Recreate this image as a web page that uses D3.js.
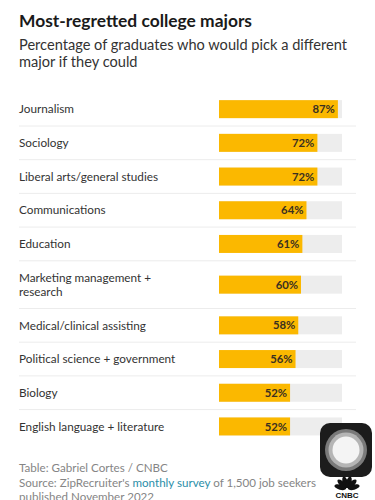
<!DOCTYPE html>
<html>
<head>
<meta charset="utf-8">
<script src="https://cdn.jsdelivr.net/npm/d3@7"></script>
<style>
  body { margin: 0; background: #fff; }
  svg { display: block; font-family: Lato, "Open Sans", sans-serif; }
</style>
</head>
<body>
<div id="chart"></div>
<script>
// data
const majors = [
  ["Journalism"],
  ["Sociology"],
  ["Liberal arts/general studies"],
  ["Communications"],
  ["Education"],
  ["Marketing management +", "research"],
  ["Medical/clinical assisting"],
  ["Political science + government"],
  ["Biology"],
  ["English language + literature"]
];
const values = [87, 72, 72, 64, 61, 60, 58, 56, 52, 52];
const title = "Most-regretted college majors";
const subtitle = ["Percentage of graduates who would pick a different", "major if they could"];
const credit = "Table: Gabriel Cortes / CNBC";
const source = ["Source: ZipRecruiter's ", "monthly survey", " of 1,500 job seekers"];
const published = "published November 2022";

const W = 375, H = 500;
const rowH = 33.7, lineH = 14;
const rowsTop = 92.3;

const svg = d3.select("#chart").append("svg")
    .attr("width", W).attr("height", H);

// title block
svg.append("text")
    .attr("x", 19).attr("y", 27)
    .attr("font-size", 17.4).attr("font-weight", 700).attr("fill", "#1a1a1a")
    .text(title);

svg.append("g").selectAll("text")
  .data(subtitle)
  .join("text")
    .attr("x", 19).attr("y", (d, i) => 50 + i * 17)
    .attr("font-size", 14.6).attr("fill", "#333")
    .text(d => d);

// rows (variable height for two-line labels)
const heights = majors.map(m => rowH + (m.length - 1) * lineH);
const starts = [rowsTop, ...d3.cumsum(heights).map(c => rowsTop + c)];
const rows = majors.map((m, i) => ({
  lines: m, value: values[i], y0: starts[i], y1: starts[i + 1]
}));

const x = d3.scaleLinear().domain([0, 90]).range([219, 342]);
const barH = 18;

const g = svg.append("g");

// separators
g.selectAll("line.sep")
  .data(rows.slice(0, -1))
  .join("line")
    .attr("class", "sep")
    .attr("x1", 19).attr("x2", 356)
    .attr("y1", d => d.y1).attr("y2", d => d.y1)
    .attr("stroke", "#ececec").attr("stroke-width", 1);

const row = g.selectAll("g.row")
  .data(rows)
  .join("g")
    .attr("class", "row")
    .attr("transform", d => `translate(0,${(d.y0 + d.y1) / 2})`);

row.append("rect")
    .attr("x", x(0)).attr("y", -barH / 2)
    .attr("width", x(90) - x(0)).attr("height", barH)
    .attr("fill", "#ededed");

row.append("rect")
    .attr("x", x(0)).attr("y", -barH / 2)
    .attr("width", d => x(d.value) - x(0)).attr("height", barH)
    .attr("fill", "#fbb800");

row.append("text")
    .attr("x", d => x(d.value) - 3)
    .attr("dy", "0.36em")
    .attr("text-anchor", "end")
    .attr("font-size", 11.3).attr("font-weight", 700).attr("fill", "#3a3020")
    .text(d => d.value + "%");

row.append("text")
    .attr("x", 19)
    .attr("font-size", 11.75).attr("fill", "#333")
  .selectAll("tspan")
  .data(d => d.lines.map((t, i) => ({t, i, n: d.lines.length})))
  .join("tspan")
    .attr("x", 19)
    .attr("y", d => (d.i - (d.n - 1) / 2) * 14.5)
    .attr("dy", "0.36em")
    .text(d => d.t);

// footer
const foot = svg.append("g").attr("font-size", 11.6).attr("fill", "#858585");
foot.append("text").attr("x", 19).attr("y", 472).text(credit);
foot.append("text").attr("x", 19).attr("y", 486.5)
  .selectAll("tspan").data(source).join("tspan")
    .attr("fill", (d, i) => i === 1 ? "#2b8ea8" : null)
    .text(d => d);
foot.append("text").attr("x", 19).attr("y", 500.5).text(published);

// overlay button + logo
const btn = svg.append("g").attr("transform", "translate(346,450)");
btn.append("rect").attr("x", -26).attr("y", -27).attr("width", 52).attr("height", 54)
    .attr("rx", 10).attr("fill", "#1c1c1c");
btn.append("circle").attr("r", 21).attr("fill", "#7a7a7a");
btn.append("circle").attr("r", 17.5).attr("fill", "#b5b5b5");
btn.append("circle").attr("r", 13.5).attr("fill", "#f4f4f4");

const logo = svg.append("g").attr("transform", "translate(347,488)");
const feathers = d3.range(6).map(i => -75 + i * 30);
logo.selectAll("ellipse")
  .data(feathers)
  .join("ellipse")
    .attr("cx", 0).attr("cy", -6).attr("rx", 2.6).attr("ry", 6)
    .attr("transform", d => `rotate(${d},0,1)`)
    .attr("fill", "#111");
logo.append("text").attr("y", 10).attr("text-anchor", "middle")
    .attr("font-size", 8).attr("font-weight", 900).attr("fill", "#111")
    .attr("font-family", "Arial, 'Liberation Sans', sans-serif")
    .text("CNBC");
</script>
</body>
</html>
